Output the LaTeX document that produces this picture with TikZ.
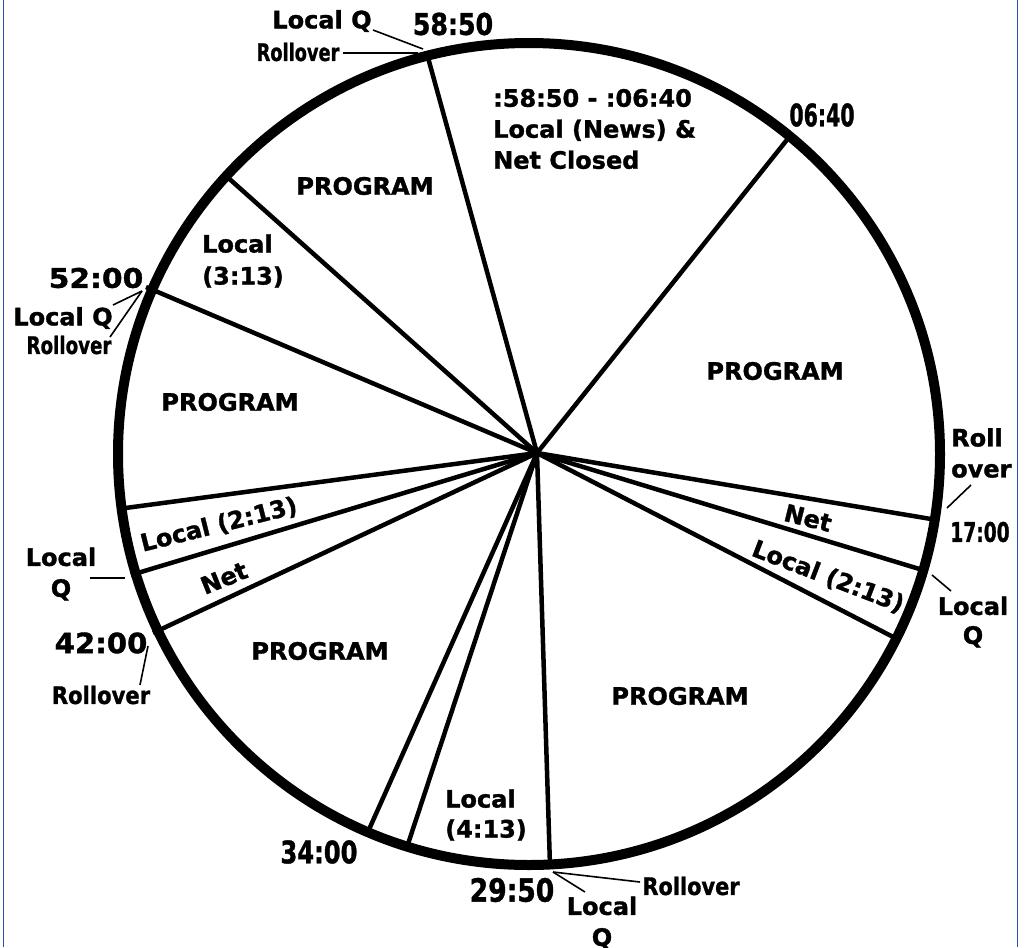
\documentclass[tikz,border=0pt]{standalone}
\usepackage{fontspec}
\setmainfont{DejaVu Sans}[BoldFeatures={FakeBold=1.3}]
\usepackage{graphicx}
\newcommand{\hsc}[2]{\scalebox{#1}[1]{#2}}
\definecolor{frameblue}{RGB}{40,80,170}
\begin{document}
\begin{tikzpicture}[x=1pt,y=-1pt,
  lbl/.style={font=\bfseries\fontsize{24}{30}\selectfont, inner sep=0pt},
  big/.style={font=\bfseries\fontsize{#1}{#1}\selectfont, inner sep=0pt},
  rim/.style={line width=10pt},
  spoke/.style={line width=4.5pt},
  leader/.style={line width=1.6pt},
  framel/.style={draw=frameblue, line width=1.5pt}]
\useasboundingbox (0,0) rectangle (1027,947);
\fill[white] (0,0) rectangle (1027,947);
\draw[framel] (3.5,0) -- (3.5,947);
\draw[framel] (1017.5,0) -- (1017.5,947);

% centres
\coordinate (O) at (529,454);
\coordinate (C) at (537,453);
% spoke ends on the rim
\coordinate (s5850) at (427,54);
\coordinate (s0640) at (790,136);
\coordinate (s1700) at (937,520);
\coordinate (sLQr) at (926,571);
\coordinate (sL213r) at (899,640);
\coordinate (s2950) at (550,866);
\coordinate (sL413) at (407,847);
\coordinate (s3400) at (367,834);
\coordinate (s4200) at (153,633);
\coordinate (sLQl) at (131,575);
\coordinate (sL213l) at (118,509);
\coordinate (s5200) at (146,287);
\coordinate (sL313) at (225,175);

\foreach \p in {s5850,s0640,s1700,sLQr,sL213r,s2950,sL413,s3400,s4200,sLQl,sL213l,s5200,sL313}
  \draw[spoke] (C) -- (\p);
\draw[rim] (O) circle[radius=411];

% labels
\node[lbl] (lqTop) at (322,21) {Local Q};
\node[lbl] (roTop) at (298,52) {\hsc{0.74}{Rollover}};
\node[big=30] (t5850) at (453,24) {\hsc{0.84}{58:50}};
\node[lbl, font=\bfseries\fontsize{24}{31}\selectfont, align=left, anchor=west] (news) at (493,129) {:58:50 - :06:40\\Local (News) \&\\Net Closed};
\node[big=31] (t0640) at (822,115) {\hsc{0.66}{06:40}};
\node[lbl] (prog1) at (775,371) {PROGRAM};
\node[lbl, font=\bfseries\fontsize{24}{31}\selectfont, align=left, anchor=west] (rollR) at (951,453) {Roll\\over};
\node[big=27] (t1700) at (980,532) {\hsc{0.69}{17:00}};
\node[lbl, font=\bfseries\fontsize{24}{29}\selectfont, align=center] (lqR) at (973,622) {Local\\Q};
\node[lbl, rotate=-14] (netR) at (808,518) {Net};
\node[lbl, rotate=-21] (l213R) at (828,577) {Local (2:13)};
\node[lbl] (prog2) at (680,696) {PROGRAM};
\node[lbl] (roBot) at (691,886) {\hsc{0.87}{Rollover}};
\node[big=32] (t2950) at (512,890) {\hsc{0.83}{29:50}};
\node[lbl, font=\bfseries\fontsize{24}{31}\selectfont, align=center] (lqBot) at (602,923) {Local\\Q};
\node[lbl, align=left, anchor=west] (l413) at (445,815) {Local\\(4:13)};
\node[big=31] (t3400) at (319,852) {\hsc{0.78}{34:00}};
\node[lbl] (prog3) at (320,651) {PROGRAM};
\node[big=28] (t4200) at (101,643) {\hsc{1.04}{42:00}};
\node[lbl] (roL) at (101,695) {\hsc{0.88}{Rollover}};
\node[lbl, font=\bfseries\fontsize{24}{31}\selectfont, align=center] (lqL) at (61,574) {Local\\Q};
\node[lbl, rotate=22] (netL) at (224,578) {Net};
\node[lbl, rotate=14] (l213L) at (219,525) {Local (2:13)};
\node[lbl] (prog4) at (230,402) {PROGRAM};
\node[big=27] (t5200) at (96,278) {\hsc{1.1}{52:00}};
\node[lbl] (lqL2) at (63,318) {Local Q};
\node[lbl] (roL2) at (69,345) {\hsc{0.76}{Rollover}};
\node[lbl, font=\bfseries\fontsize{24}{32}\selectfont, align=left, anchor=west] (l313) at (202,261) {Local\\(3:13)};
\node[lbl] (prog5) at (365,186) {PROGRAM};

% leader lines
\coordinate (a1) at (373,30);  \coordinate (b1) at (423,49);
\coordinate (a2) at (343,53);  \coordinate (b2) at (418,53);
\coordinate (a3) at (971,485); \coordinate (b3) at (947,508);
\coordinate (a4) at (951,591); \coordinate (b4) at (932,575);
\coordinate (a5) at (585,892); \coordinate (b5) at (553,872);
\coordinate (a6) at (640,882);
\coordinate (a7) at (140,685); \coordinate (b7) at (148,646);
\coordinate (a8) at (90,578);  \coordinate (b8) at (125,578);
\coordinate (a9) at (113,305); \coordinate (b9) at (142,291);
\coordinate (a10) at (110,337);
\draw[leader] (a1) -- (b1);
\draw[leader] (a2) -- (b2);
\draw[leader] (a3) -- (b3);
\draw[leader] (a4) -- (b4);
\draw[leader] (a5) -- (b5);
\draw[leader] (a6) -- (b5);
\draw[leader] (a7) -- (b7);
\draw[leader] (a8) -- (b8);
\draw[leader] (a9) -- (b9);
\draw[leader] (a10) -- (b9);
\end{tikzpicture}
\end{document}
